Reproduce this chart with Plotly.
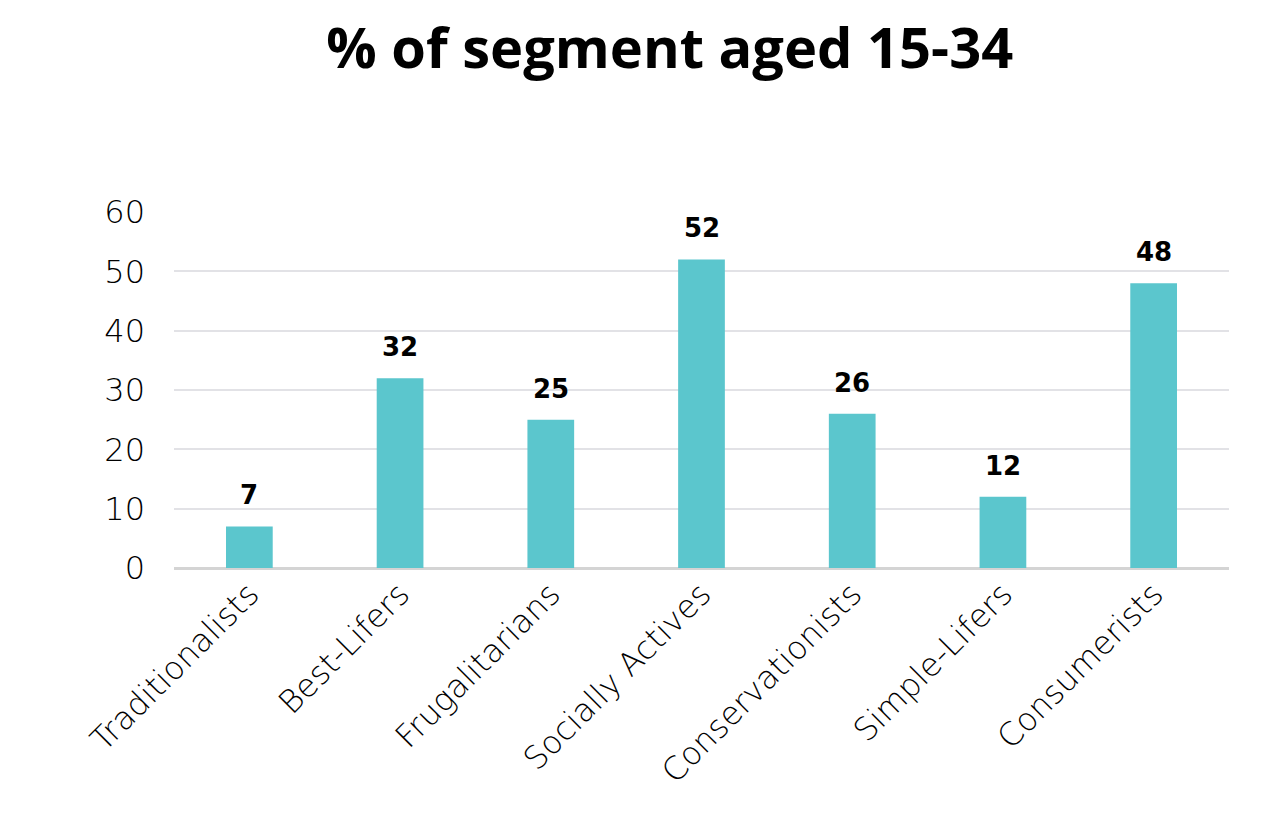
import plotly.graph_objects as go

categories = ["Traditionalists", "Best-Lifers", "Frugalitarians", "Socially Actives",
              "Conservationists", "Simple-Lifers", "Consumerists"]
values = [7, 32, 25, 52, 26, 12, 48]
y_ticks = [0, 10, 20, 30, 40, 50, 60]

fig = go.Figure(go.Bar(
    x=categories, y=values,
    marker=dict(color="#5BC6CD", line=dict(width=0)),
    hoverinfo="x+y",
))

for c, v in zip(categories, values):
    fig.add_annotation(x=c, y=v, text=f"<b>{v}</b>", showarrow=False,
                       yanchor="bottom", yshift=14,
                       font=dict(family="DejaVu Sans", size=26, color="#000000"))

fig.update_layout(
    width=1280, height=814,
    paper_bgcolor="white", plot_bgcolor="white",
    margin=dict(l=166, r=59, t=204, b=254),
    bargap=0.69,
    showlegend=False,
    title=dict(text="<b>% of segment aged 15-34</b>", x=0.517, xanchor="center",
               y=0.95, yanchor="middle",
               font=dict(family="Open Sans", size=56, color="#000000")),
    font=dict(family="DejaVu Sans", color="#000000"),
)
fig.update_yaxes(range=[0, 60], tickvals=y_ticks, showgrid=True, gridcolor="#E2E2E6",
                 gridwidth=2, zeroline=True, zerolinecolor="#D4D4D4", zerolinewidth=3,
                 showline=False, ticks="", ticklabelstandoff=28,
                 tickfont=dict(family="DejaVu Sans", size=32, color="#000000", weight=200))
fig.update_xaxes(tickangle=-45, showline=False, ticks="",
                 tickfont=dict(family="DejaVu Sans", size=32, color="#000000", weight=200))

fig.write_html("out.html")
